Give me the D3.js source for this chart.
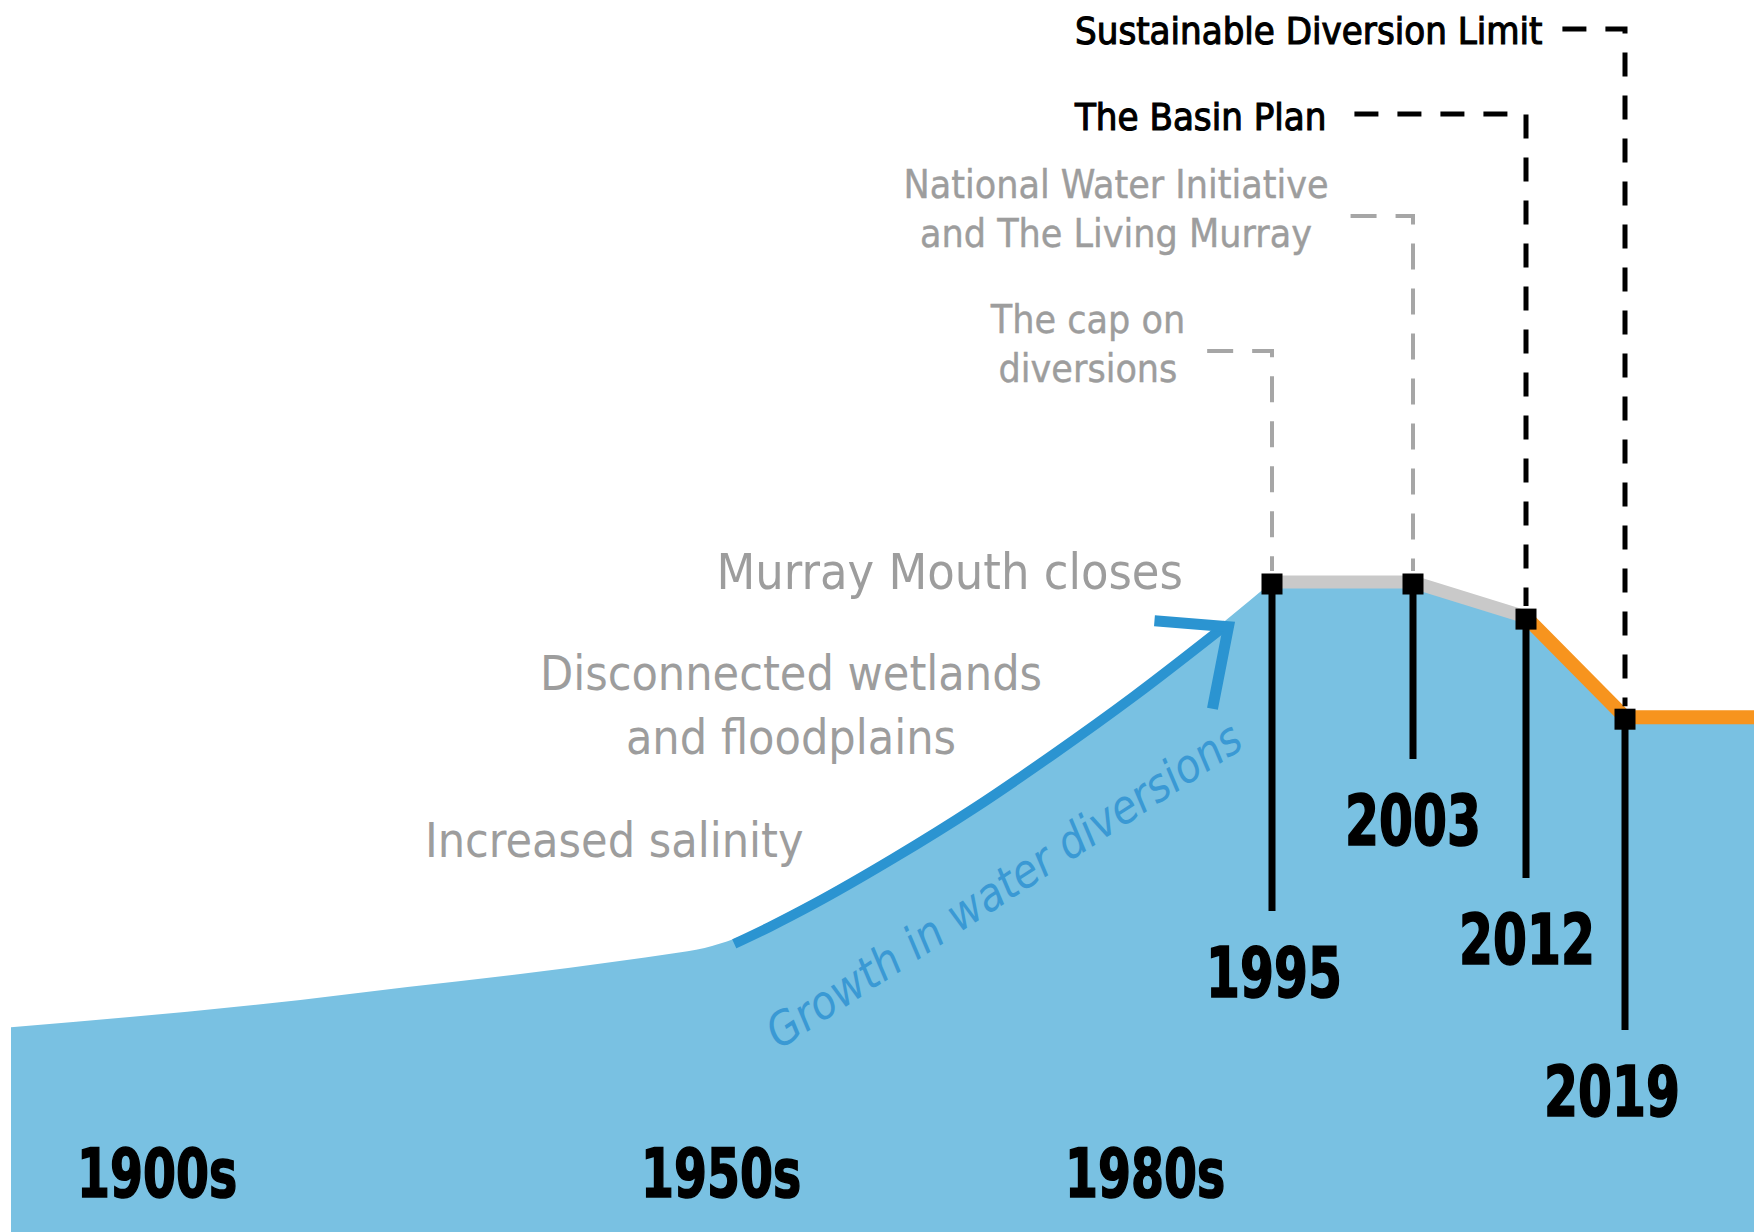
<!DOCTYPE html>
<html>
<head>
<meta charset="utf-8">
<script src="https://cdn.jsdelivr.net/npm/d3@7"></script>
<style>
  html, body { margin: 0; padding: 0; background: #fff; }
  svg { display: block; }
</style>
</head>
<body>
<svg id="chart"></svg>
<script>

/* ---- data ---- */

// growth in diversions (index, cap level = 100)
const growthYears  = [1890, 1919.8, 1929.3, 1939.3, 1948.1, 1952.1, 1954.5, 1956.6, 1959.1, 1962.2, 1967.9, 1973.6, 1979.2, 1985.0, 1991.7, 1995];
const growthValues = [31.5, 35.7, 37.7, 39.7, 41.7, 42.8, 43.7, 45.1, 47.7, 51.2, 58.3, 66.0, 74.3, 83.2, 94.2, 100];

// policy milestones
const policyYears  = [1995, 2003, 2012, 2019];
const policyValues = [100, 100, 94.6, 79.2];
const policyNames  = [
  ["The cap on", "diversions"],
  ["National Water Initiative", "and The Living Murray"],
  ["The Basin Plan"],
  ["Sustainable Diversion Limit"]
];
const endYear = 2030;

// decade tick labels
const decadeYears  = [1900, 1950, 1980];
const decadeLabels = ["1900s", "1950s", "1980s"];

// impacts
const impactLabels = [
  ["Murray Mouth closes"],
  ["Disconnected wetlands", "and floodplains"],
  ["Increased salinity"]
];
const arrowLabel = "Growth in water diversions";
const arrowRange = [1956.6, 1991.7];

/* ---- layout ---- */

const W = 1754, H = 1232;
const svg = d3.select("#chart").attr("width", W).attr("height", H);

// schematic timeline (not to scale)
const x = d3.scaleLinear()
  .domain([1890, 1900, 1950, 1980, 1995, 2003, 2012, 2019, endYear])
  .range([11, 77, 641, 1065, 1272, 1413, 1526, 1625, W]);
const y = d3.scaleLinear().domain([0, 100]).range([H, 582]);

const blueFill  = "#79c1e2";
const arrowBlue = "#2b94d1";
const grayText  = "#9d9d9d";
const grayDash  = "#a6a6a6";
const orange    = "#f7941e";
const grayLine  = "#c9c9c9";
const sans = "'DejaVu Sans Condensed', 'DejaVu Sans', sans-serif";
const squeeze = 0.775;    // narrow the bold figures

// per-milestone annotation placement
const stemEnd   = [911, 759, 878, 1030];
const yearDx    = [2, 0, 1, -13];
const leaderY   = [351, 216, 114, 29];
const leaderGap = [22, 22, 28, 20];
const noteStyle = [
  { anchor: "middle", x: 1088, base: [333, 382], color: grayText, dark: false },
  { anchor: "middle", x: 1116, base: [198, 247], color: grayText, dark: false },
  { anchor: "start",  x: 1075, base: [130],      color: "#000",   dark: true },
  { anchor: "start",  x: 1075, base: [44],       color: "#000",   dark: true }
];
const impactStyle = [
  { anchor: "end",    x: 1183, base: [589], size: 50 },
  { anchor: "middle", x: 791,  base: [690, 754], size: 48 },
  { anchor: "start",  x: 425,  base: [857], size: 48 }
];

const growth = growthYears.map((d, i) => ({ year: d, value: growthValues[i] }));
const policy = policyYears.map((d, i) => ({ year: d, value: policyValues[i] }));
const tail = policy.concat([{ year: endYear, value: policyValues[policyValues.length - 1] }]);

/* ---- area ---- */

let curveLine = d3.line().x(d => x(d.year)).y(d => y(d.value)).curve(d3.curveMonotoneX);
let flatLine  = d3.line().x(d => x(d.year)).y(d => y(d.value));

let areaPath = curveLine(growth)
  + flatLine(tail).replace(/^M/, "L")
  + `L${x(endYear)},${H}L${x(growthYears[0])},${H}Z`;

svg.append("path")
  .attr("d", areaPath)
  .attr("fill", blueFill);

/* ---- growth arrow (sits just under the edge) ---- */

let arrowData = growth.filter(d => d.year >= arrowRange[0] && d.year <= arrowRange[1]);
let arrowG = svg.append("g").attr("transform", "translate(0,5)");

arrowG.append("path")
  .attr("d", curveLine(arrowData))
  .attr("fill", "none")
  .attr("stroke", arrowBlue)
  .attr("stroke-width", 10);

let tip = arrowData[arrowData.length - 1];
let tx = x(tip.year), ty = y(tip.value);
arrowG.append("path")
  .attr("d", `M${tx - 72},${ty - 4}L${tx + 2},${ty + 2}L${tx - 14},${ty + 84}`)
  .attr("fill", "none")
  .attr("stroke", arrowBlue)
  .attr("stroke-width", 11)
  .attr("stroke-linejoin", "miter");

svg.append("text")
  .text(arrowLabel)
  .attr("transform", "translate(779,1050) rotate(-33)")
  .attr("font-family", sans)
  .attr("font-style", "italic")
  .attr("font-size", "46px")
  .attr("fill", "#3a99d4");

/* ---- impact labels ---- */

impactLabels.forEach((lines, i) => {
  let s = impactStyle[i];
  lines.forEach((t, j) => {
    svg.append("text")
      .text(t)
      .attr("x", s.x)
      .attr("y", s.base[j])
      .attr("text-anchor", s.anchor)
      .attr("font-family", sans)
      .attr("font-size", s.size + "px")
      .attr("fill", grayText);
  });
});

/* ---- policy lines ---- */

svg.append("path")
  .attr("d", flatLine(policy.slice(0, 3)))
  .attr("fill", "none")
  .attr("stroke", grayLine)
  .attr("stroke-width", 13);

svg.append("path")
  .attr("d", flatLine(tail.slice(2)))
  .attr("fill", "none")
  .attr("stroke", orange)
  .attr("stroke-width", 14);

/* ---- notes and dashed leaders ---- */

policy.forEach((d, i) => {
  let s = noteStyle[i];
  let right = 0;
  policyNames[i].forEach((t, j) => {
    let el = svg.append("text")
      .text(t)
      .attr("x", s.x)
      .attr("y", s.base[j])
      .attr("text-anchor", s.anchor)
      .attr("font-family", sans)
      .attr("font-size", s.dark ? "38px" : "39px")
      .attr("fill", s.color)
      .attr("stroke", s.color)
      .attr("stroke-width", s.dark ? 1.1 : 0.4);
    let bb = el.node().getBBox();
    right = Math.max(right, bb.x + bb.width);
  });

  svg.append("path")
    .attr("d", `M${right + leaderGap[i]},${leaderY[i]}H${x(d.year)}V${y(d.value) - 11}`)
    .attr("fill", "none")
    .attr("stroke", s.dark ? "#000" : grayDash)
    .attr("stroke-width", s.dark ? 5 : 4)
    .attr("stroke-dasharray", s.dark ? "24,19" : "26,19");
});

/* ---- stems, markers, year labels ---- */

svg.selectAll("line.stem")
  .data(policy)
  .enter()
  .append("line")
  .attr("class", "stem")
  .attr("x1", d => x(d.year))
  .attr("x2", d => x(d.year))
  .attr("y1", d => y(d.value))
  .attr("y2", (d, i) => stemEnd[i])
  .attr("stroke", "#000")
  .attr("stroke-width", 7);

let m = 21;
svg.selectAll("rect.marker")
  .data(policy)
  .enter()
  .append("rect")
  .attr("class", "marker")
  .attr("x", d => x(d.year) - m / 2)
  .attr("y", d => y(d.value) - m / 2 + 2)
  .attr("width", m)
  .attr("height", m)
  .attr("fill", "#000");

svg.selectAll("text.year")
  .data(policy)
  .enter()
  .append("text")
  .attr("class", "year")
  .text(d => d.year)
  .attr("transform", (d, i) => "translate(" + [x(d.year) + yearDx[i], stemEnd[i] + 86].join(",") + ") scale(" + squeeze + ",1)")
  .attr("text-anchor", "middle")
  .attr("font-family", sans)
  .attr("font-weight", "bold")
  .attr("font-size", "70px")
  .attr("fill", "#000")
  .attr("stroke", "#000")
  .attr("stroke-width", 1.6);

/* ---- decade labels ---- */

svg.selectAll("text.decade")
  .data(decadeYears)
  .enter()
  .append("text")
  .attr("class", "decade")
  .text((d, i) => decadeLabels[i])
  .attr("transform", d => "translate(" + [x(d), 1197].join(",") + ") scale(" + squeeze + ",1)")
  .attr("font-family", sans)
  .attr("font-weight", "bold")
  .attr("font-size", "68px")
  .attr("fill", "#000")
  .attr("stroke", "#000")
  .attr("stroke-width", 1.6);

</script>
</body>
</html>
